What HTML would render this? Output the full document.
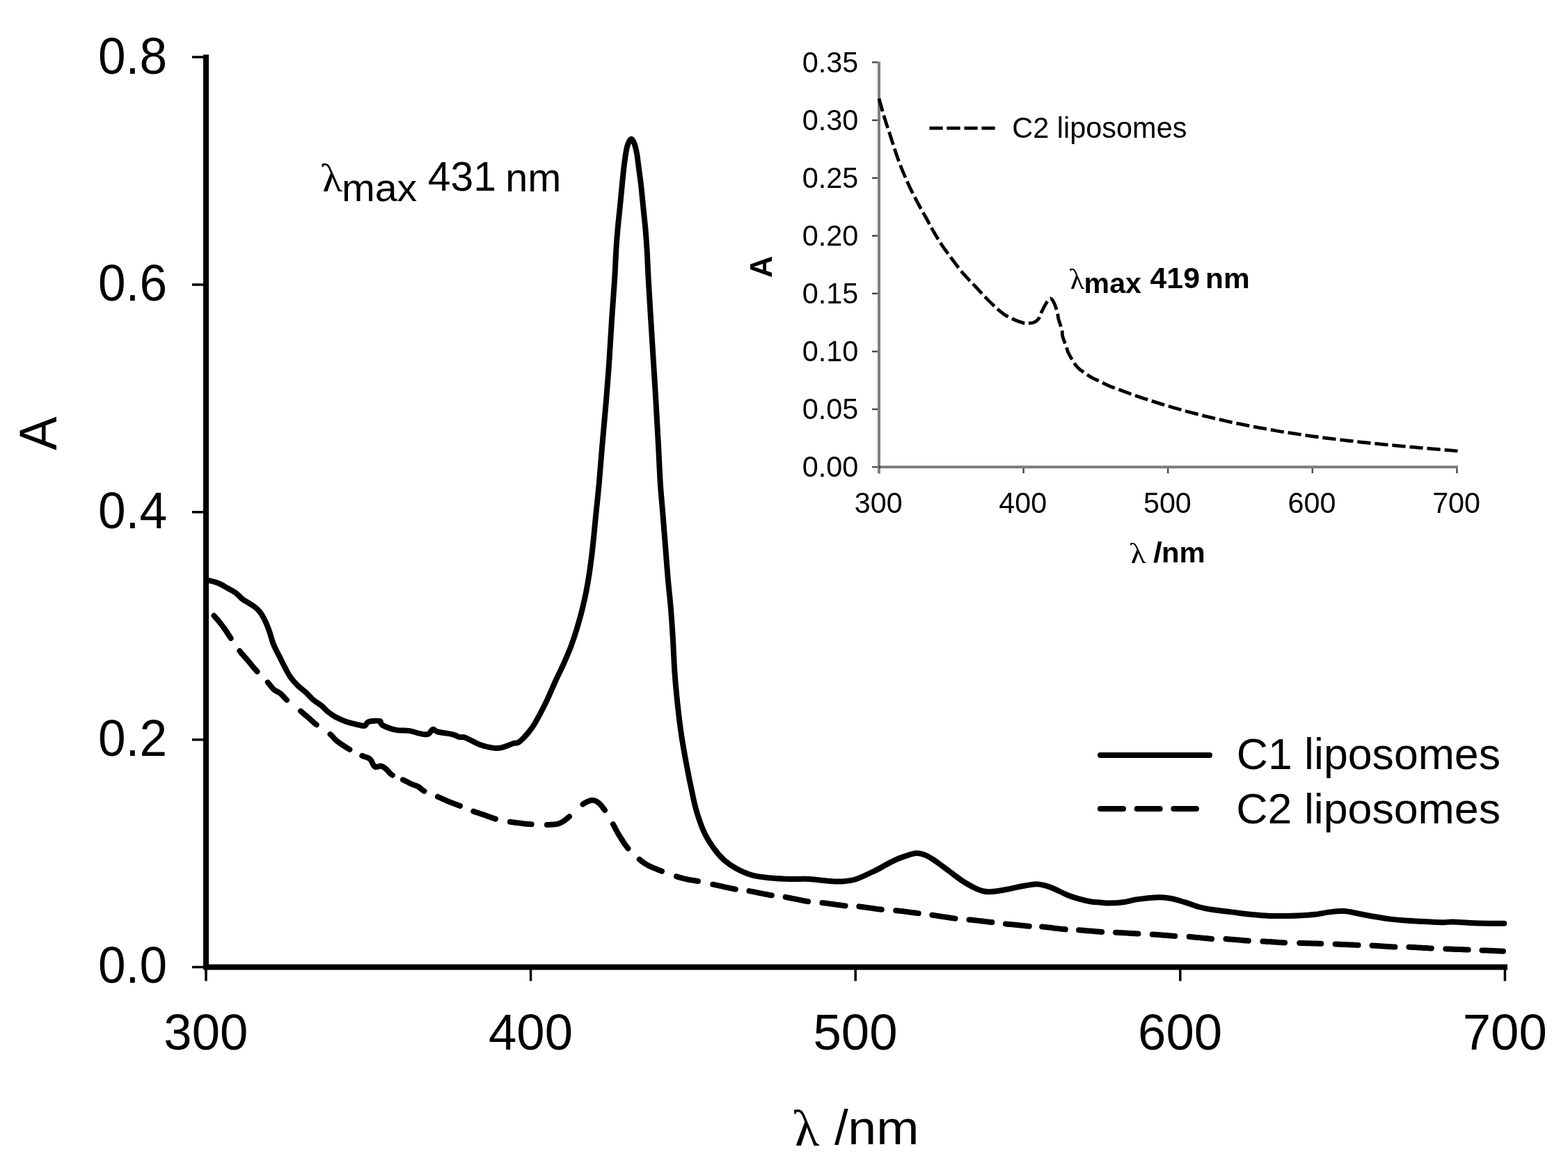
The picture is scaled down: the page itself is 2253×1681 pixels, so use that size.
<!DOCTYPE html>
<html><head><meta charset="utf-8"><title>Absorption spectra of C1 and C2 liposomes</title>
<style>html,body{margin:0;padding:0;background:#fff;}svg{display:block;}</style></head>
<body><svg width="2253" height="1681" viewBox="0 0 2253 1681">
<rect width="2253" height="1681" fill="#fff"/>
<path d="M296 78.5V1393.5M292 1389.5H2166" stroke="#000" stroke-width="8" fill="none"/>
<path d="M276 82.0H296M276 408.9H296M276 735.8H296M276 1062.7H296M276 1389.6H296M296.0 1389.5V1409.5M762.6 1389.5V1409.5M1229.2 1389.5V1409.5M1695.8 1389.5V1409.5M2162.4 1389.5V1409.5" stroke="#000" stroke-width="3.5" fill="none"/>
<path d="M296.0 833.5 C296.6 833.5 296.5 833.0 299.5 833.8 C302.5 834.5 309.4 836.1 314.0 838.0 C318.6 839.9 323.1 842.9 327.4 845.3 C331.6 847.7 336.0 849.9 339.5 852.5 C343.0 855.1 345.6 858.7 348.6 861.0 C351.6 863.3 354.6 864.6 357.6 866.5 C360.6 868.4 364.2 870.5 366.7 872.5 C369.2 874.5 370.8 876.1 372.8 878.6 C374.8 881.1 376.9 884.1 378.8 887.6 C380.7 891.1 382.8 896.0 384.3 899.7 C385.8 903.4 386.5 905.4 388.0 910.0 C389.5 914.6 391.1 921.2 393.5 927.1 C395.9 933.0 400.2 940.4 402.6 945.3 C405.0 950.1 405.6 951.7 408.0 956.2 C410.4 960.7 413.8 967.7 417.1 972.5 C420.4 977.3 424.4 981.6 428.0 985.2 C431.6 988.8 435.3 991.0 438.9 994.3 C442.5 997.6 445.9 1001.9 449.8 1005.2 C453.7 1008.5 459.2 1011.6 462.5 1014.3 C465.8 1017.0 466.6 1018.9 469.8 1021.5 C473.0 1024.1 477.2 1027.4 481.9 1030.0 C486.6 1032.6 492.9 1035.2 497.8 1037.0 C502.7 1038.8 506.7 1039.5 511.0 1040.5 C515.3 1041.5 520.5 1043.5 523.6 1042.9 C526.7 1042.3 526.0 1038.2 529.6 1037.0 C533.2 1035.8 542.2 1035.2 545.5 1036.0 C548.8 1036.8 545.5 1039.8 549.5 1041.9 C553.5 1044.1 563.0 1047.6 569.3 1048.9 C575.6 1050.2 581.2 1049.0 587.2 1049.9 C593.2 1050.8 600.8 1053.6 605.4 1054.4 C610.0 1055.2 612.3 1056.0 615.1 1054.9 C617.9 1053.8 619.7 1048.5 622.0 1047.9 C624.3 1047.3 624.2 1050.3 629.0 1051.5 C633.8 1052.7 645.6 1054.0 650.8 1055.3 C655.9 1056.5 656.9 1058.2 659.9 1059.0 C662.9 1059.8 664.1 1058.1 669.0 1059.9 C673.9 1061.7 682.6 1067.4 689.0 1069.8 C695.4 1072.2 702.0 1073.6 707.1 1074.4 C712.2 1075.2 714.6 1075.5 719.8 1074.4 C724.9 1073.3 733.9 1069.2 738.0 1068.0 C742.1 1066.8 741.8 1068.4 744.2 1067.1 C746.6 1065.8 749.0 1063.8 752.5 1060.1 C756.0 1056.4 761.0 1050.6 765.0 1044.8 C769.0 1039.0 772.5 1032.2 776.2 1025.3 C779.9 1018.3 783.6 1011.0 787.3 1003.1 C791.0 995.2 794.7 986.1 798.4 978.0 C802.1 969.9 805.9 962.8 809.6 954.4 C813.3 946.0 817.5 936.5 820.7 927.9 C823.9 919.3 826.5 911.2 829.0 902.9 C831.5 894.5 833.8 886.6 836.0 877.8 C838.2 869.0 840.4 859.4 842.3 850.0 C844.1 840.6 845.5 832.4 847.1 821.6 C848.7 810.8 850.2 798.9 851.7 785.3 C853.2 771.7 854.7 755.0 856.2 739.9 C857.7 724.8 859.3 711.1 860.8 694.5 C862.3 677.9 863.6 660.0 865.3 640.0 C867.0 620.0 869.4 594.9 871.1 574.3 C872.8 553.7 874.2 535.6 875.5 516.2 C876.8 496.8 877.8 477.5 879.1 458.1 C880.4 438.7 882.2 416.5 883.2 400.0 C884.2 383.5 884.6 370.6 885.3 358.9 C886.0 347.2 886.8 338.3 887.5 329.8 C888.2 321.3 889.0 315.3 889.7 308.0 C890.4 300.7 891.2 293.5 891.9 286.2 C892.6 278.9 893.3 271.7 894.0 264.4 C894.7 257.1 895.4 249.8 896.2 242.6 C897.1 235.3 898.1 226.7 899.1 220.9 C900.1 215.1 900.7 211.3 902.0 207.8 C903.3 204.3 905.5 200.1 907.1 199.8 C908.7 199.6 910.2 202.8 911.5 206.3 C912.8 209.8 914.0 214.9 915.1 220.9 C916.2 226.9 917.0 235.3 918.0 242.6 C919.0 249.8 920.0 257.1 920.9 264.4 C921.8 271.7 922.4 278.9 923.1 286.2 C923.8 293.5 924.6 300.7 925.3 308.0 C926.0 315.3 926.8 321.3 927.5 329.8 C928.2 338.3 928.9 347.2 929.6 358.9 C930.3 370.6 930.7 383.5 931.6 400.0 C932.5 416.5 933.9 438.7 935.1 458.1 C936.3 477.5 937.5 496.8 938.7 516.2 C939.9 535.6 941.1 553.7 942.3 574.3 C943.5 594.9 944.9 620.0 946.0 640.0 C947.1 660.0 947.7 677.9 948.8 694.5 C949.9 711.1 951.3 724.8 952.5 739.9 C953.7 755.0 954.9 770.2 956.1 785.3 C957.3 800.4 958.4 815.6 959.7 830.7 C961.0 845.8 962.8 861.1 964.0 876.0 C965.2 890.9 966.1 904.8 967.0 920.0 C967.9 935.2 968.4 951.7 969.5 967.0 C970.6 982.3 972.0 997.0 973.6 1012.0 C975.2 1027.0 977.0 1041.9 979.2 1056.8 C981.4 1071.7 984.6 1088.5 987.0 1101.6 C989.4 1114.7 991.5 1124.8 993.8 1135.2 C996.0 1145.7 997.5 1154.2 1000.5 1164.3 C1003.5 1174.4 1007.6 1186.7 1011.7 1195.7 C1015.8 1204.7 1020.2 1211.4 1025.1 1218.1 C1029.9 1224.8 1035.2 1231.0 1040.8 1236.0 C1046.4 1241.0 1052.0 1244.7 1058.7 1248.3 C1065.5 1251.9 1073.0 1255.4 1081.3 1257.6 C1089.6 1259.8 1099.4 1260.7 1108.4 1261.6 C1117.4 1262.5 1126.5 1262.8 1135.5 1263.0 C1144.5 1263.2 1153.6 1262.5 1162.6 1263.0 C1171.6 1263.5 1181.8 1265.1 1189.7 1265.7 C1197.6 1266.3 1203.2 1266.9 1210.0 1266.4 C1216.8 1266.0 1222.5 1265.6 1230.4 1263.0 C1238.3 1260.4 1249.6 1254.6 1257.5 1250.8 C1265.4 1247.0 1272.4 1242.7 1277.8 1239.9 C1283.2 1237.1 1285.7 1235.8 1290.0 1234.0 C1294.3 1232.2 1299.1 1230.5 1303.6 1229.1 C1308.1 1227.7 1312.6 1225.7 1317.1 1225.7 C1321.6 1225.7 1326.2 1227.2 1330.7 1229.1 C1335.2 1231.0 1338.6 1233.4 1344.2 1237.2 C1349.8 1241.0 1357.7 1247.1 1364.5 1252.1 C1371.3 1257.1 1378.1 1262.7 1384.9 1267.0 C1391.7 1271.3 1399.6 1275.5 1405.2 1277.9 C1410.8 1280.3 1413.1 1281.1 1418.7 1281.3 C1424.3 1281.5 1431.1 1280.5 1439.0 1279.2 C1446.9 1278.0 1458.3 1275.3 1466.2 1273.8 C1474.1 1272.3 1480.9 1270.7 1486.5 1270.4 C1492.1 1270.1 1495.5 1270.8 1500.0 1271.8 C1504.5 1272.8 1507.9 1274.1 1513.6 1276.5 C1519.2 1278.9 1527.8 1283.5 1533.9 1286.0 C1540.0 1288.5 1544.6 1289.8 1550.2 1291.4 C1555.8 1293.0 1562.8 1294.7 1567.8 1295.5 C1572.8 1296.3 1575.7 1296.2 1580.0 1296.5 C1584.3 1296.8 1587.9 1297.6 1593.6 1297.6 C1599.2 1297.5 1607.1 1297.1 1613.9 1296.2 C1620.7 1295.3 1626.3 1293.2 1634.2 1292.1 C1642.1 1291.0 1653.4 1289.6 1661.3 1289.4 C1669.2 1289.2 1674.8 1289.7 1681.6 1290.8 C1688.4 1291.9 1695.2 1294.2 1702.0 1296.2 C1708.8 1298.2 1715.5 1301.2 1722.3 1303.0 C1729.1 1304.8 1734.7 1305.8 1742.6 1307.0 C1750.5 1308.2 1760.7 1309.3 1769.7 1310.4 C1778.7 1311.5 1787.8 1312.9 1796.8 1313.8 C1805.8 1314.7 1814.9 1315.6 1823.9 1315.9 C1832.9 1316.2 1843.3 1316.0 1851.0 1315.9 C1858.7 1315.8 1863.5 1315.7 1870.0 1315.3 C1876.5 1314.9 1883.5 1314.6 1890.3 1313.8 C1897.1 1313.0 1903.9 1311.2 1910.7 1310.4 C1917.5 1309.6 1924.2 1308.8 1931.0 1309.1 C1937.8 1309.4 1944.5 1311.3 1951.3 1312.5 C1958.1 1313.7 1963.7 1315.2 1971.6 1316.5 C1979.5 1317.8 1990.8 1319.6 1998.7 1320.6 C2006.6 1321.6 2011.1 1322.0 2019.0 1322.6 C2026.9 1323.2 2037.2 1323.5 2046.2 1324.0 C2055.2 1324.5 2066.5 1325.2 2073.3 1325.3 C2080.1 1325.4 2080.0 1324.4 2086.8 1324.5 C2093.6 1324.6 2104.9 1325.6 2113.9 1326.0 C2122.9 1326.4 2133.1 1326.6 2141.0 1326.7 C2148.9 1326.8 2157.9 1326.7 2161.3 1326.7" stroke="#000" stroke-width="8" fill="none" stroke-linejoin="round" stroke-linecap="round"/>
<path d="M307.5 884.6 309.1 886.5 311.0 888.6 312.9 890.8 314.7 893.0 316.4 895.1 318.2 897.4 319.9 899.8 321.7 902.1 323.3 904.4 324.8 906.5 326.0 908.3 327.4 910.5 328.5 912.2 329.9 914.3 331.0 916.0 331.7 917.0M344.4 935.2 346.1 937.4 347.7 939.3 349.3 941.2 350.8 943.0 352.4 944.7 353.9 946.5 355.5 948.2 357.0 950.0 358.5 951.8 360.0 953.6 361.4 955.4 362.9 957.2 364.3 958.9 365.8 960.7 367.4 962.5 369.0 964.3 369.5 964.8M384.8 980.4 386.3 982.2 387.6 983.8 389.4 986.1 391.2 988.3 392.9 990.1 394.7 991.6 396.9 993.0 399.1 994.0 401.4 995.2 403.2 996.6 405.1 998.4 406.9 1000.3 408.9 1002.5 410.3 1004.0 411.8 1005.5 412.0 1005.6M432.0 1021.7 434.1 1023.4 435.6 1024.7 437.8 1026.6 440.0 1028.4 442.2 1030.3 443.8 1031.7 445.4 1033.1 446.9 1034.5 448.5 1035.9 450.1 1037.3 451.7 1038.8 453.4 1040.2 454.7 1041.2M474.5 1054.9 476.0 1056.2 477.6 1057.9 478.9 1059.5 480.5 1061.4 482.4 1063.2 484.2 1064.8 486.0 1066.1 488.0 1067.6 489.8 1068.8 491.9 1070.2 494.3 1071.8 496.8 1073.4 498.6 1074.5 500.4 1075.6 502.3 1076.7 502.5 1076.8M520.3 1085.8 522.7 1086.8 525.0 1087.5 527.2 1088.2 529.2 1089.0 531.0 1090.1 532.7 1091.8 534.0 1094.0 535.2 1096.5 536.3 1098.8 537.6 1100.8 539.5 1102.0 541.8 1101.8 544.1 1101.1 546.4 1100.5 548.5 1100.9 550.5 1101.9 552.5 1103.2 554.4 1104.7 556.3 1106.4 558.1 1108.3 559.4 1109.9 560.9 1111.5 562.7 1113.0 563.8 1113.7M579.0 1120.3 580.9 1121.2 583.4 1122.5 585.9 1123.8 588.2 1125.0 590.5 1126.1 592.6 1127.0 594.6 1127.7 597.1 1128.6 599.4 1129.5 601.8 1130.7 603.8 1132.2 605.6 1133.9 607.3 1135.2 609.3 1136.5 609.5 1136.6M629.0 1144.7 631.1 1145.6 633.0 1146.5 635.0 1147.4 636.9 1148.3 638.9 1149.1 640.8 1150.0 642.9 1150.9 645.0 1151.7 647.1 1152.6 649.4 1153.5 651.6 1154.3 653.9 1155.2 656.2 1156.0 658.5 1156.9 660.7 1157.8 661.0 1157.9M680.3 1165.7 682.2 1166.4 684.3 1167.1 686.4 1167.8 688.5 1168.5 690.7 1169.2 692.8 1169.9 694.9 1170.6 697.1 1171.4 699.2 1172.1 701.4 1172.9 703.6 1173.7 705.8 1174.5 708.0 1175.3 710.2 1176.0 712.0 1176.6M733.0 1180.8 735.5 1181.2 738.2 1181.6 741.0 1181.9 743.8 1182.3 746.5 1182.6 749.0 1182.9 751.4 1183.2 753.5 1183.4 756.1 1183.7 758.2 1183.9 760.3 1184.0 762.5 1184.2 763.7 1184.2M786.0 1185.0 788.6 1184.9 791.1 1184.8 793.5 1184.7 795.9 1184.5 798.2 1184.3 800.5 1183.8 802.7 1183.3 804.8 1182.5 806.8 1181.5 808.7 1180.5 810.6 1179.2 812.4 1177.9 814.2 1176.5 816.1 1174.9 818.0 1173.3 818.0 1173.3M837.5 1155.5 839.3 1154.3 841.2 1153.2 843.0 1152.2 845.7 1151.1 848.2 1150.2 850.5 1149.8 852.6 1149.8 855.0 1150.3 857.3 1151.5 859.0 1152.7 860.8 1154.1 862.6 1155.9 864.4 1157.9 866.2 1160.2 867.5 1161.9 868.7 1163.6 869.0 1164.0M880.9 1184.2 882.3 1186.8 883.6 1189.3 884.8 1191.7 886.2 1194.1 887.2 1196.0 888.4 1198.0 889.8 1200.3 891.3 1202.8 893.0 1205.5 894.7 1208.2 896.5 1211.0 898.3 1213.7 900.2 1216.2 902.0 1218.6 902.4 1219.1M918.8 1234.7 920.3 1236.0 922.0 1237.3 923.6 1238.5 925.3 1239.7 927.0 1240.8 928.8 1241.9 930.7 1243.0 932.9 1244.2 935.3 1245.3 937.8 1246.4 940.5 1247.6 943.2 1248.6 945.9 1249.7 948.6 1250.7 951.0 1251.7M972.0 1259.2 974.7 1260.1 977.5 1260.9 980.2 1261.7 983.0 1262.4 985.0 1262.9 987.1 1263.3 989.2 1263.8 991.5 1264.2 993.8 1264.5 996.2 1264.9 998.5 1265.3 1000.9 1265.7 1003.0 1266.0M1024.3 1270.7 1026.7 1271.2 1028.8 1271.7 1031.1 1272.2 1033.4 1272.7 1035.8 1273.2 1038.3 1273.7 1040.8 1274.3 1043.2 1274.8 1045.7 1275.3 1048.1 1275.8 1050.4 1276.3 1052.6 1276.8 1054.7 1277.2 1056.8 1277.6M1076.5 1280.1 1078.8 1280.6 1080.9 1280.9 1083.1 1281.4 1085.5 1281.8 1087.9 1282.3 1090.3 1282.8 1092.8 1283.3 1095.3 1283.8 1097.7 1284.3 1100.1 1284.8 1102.5 1285.2 1104.7 1285.7 1106.7 1286.0 1108.9 1286.4M1128.7 1288.9 1131.0 1289.4 1133.1 1289.8 1135.3 1290.2 1137.6 1290.7 1140.0 1291.1 1142.5 1291.6 1145.0 1292.1 1147.4 1292.6 1149.9 1293.1 1152.3 1293.6 1154.6 1294.1 1156.8 1294.5 1158.9 1294.9 1161.1 1295.3M1181.5 1297.1 1183.9 1297.4 1186.1 1297.6 1188.3 1297.9 1190.7 1298.3 1193.2 1298.6 1195.7 1298.9 1198.2 1299.3 1200.7 1299.6 1203.2 1300.0 1205.7 1300.3 1208.0 1300.6 1210.3 1300.9 1212.4 1301.2 1214.6 1301.4M1234.4 1302.4 1236.7 1302.7 1238.8 1303.0 1240.9 1303.3 1243.2 1303.6 1245.6 1303.9 1248.0 1304.3 1250.4 1304.6 1252.9 1304.9 1255.3 1305.3 1257.7 1305.6 1260.0 1306.0 1262.3 1306.3 1264.4 1306.5 1266.4 1306.8 1266.8 1306.8M1287.2 1308.2 1290.0 1308.5 1293.5 1308.9 1297.5 1309.3 1299.5 1309.6 1301.6 1309.9 1303.8 1310.1 1305.9 1310.4 1308.0 1310.7 1310.1 1311.0 1312.2 1311.2 1314.2 1311.5 1317.9 1312.0 1319.7 1312.2M1339.4 1314.7 1341.8 1315.0 1343.9 1315.4 1346.2 1315.7 1348.6 1316.1 1351.0 1316.5 1353.5 1316.9 1356.0 1317.2 1358.6 1317.6 1361.1 1318.0 1363.5 1318.4 1365.9 1318.8 1368.2 1319.1 1370.3 1319.4 1372.5 1319.7M1392.5 1321.4 1394.7 1321.6 1396.8 1321.8 1399.1 1322.1 1401.5 1322.3 1403.9 1322.6 1406.4 1322.9 1409.0 1323.2 1411.5 1323.5 1414.0 1323.8 1416.4 1324.1 1418.8 1324.4 1421.1 1324.6 1423.2 1324.9 1425.3 1325.1M1444.9 1327.4 1447.4 1327.7 1449.5 1327.9 1451.7 1328.1 1454.0 1328.3 1456.4 1328.6 1458.9 1328.8 1461.4 1329.1 1463.8 1329.3 1466.3 1329.6 1468.7 1329.8 1471.0 1330.0 1473.2 1330.2 1475.3 1330.4 1478.8 1330.7M1497.2 1331.5 1500.3 1331.8 1502.5 1332.0 1504.7 1332.3 1507.1 1332.5 1509.6 1332.8 1512.1 1333.1 1514.6 1333.5 1517.2 1333.8 1519.7 1334.1 1522.1 1334.4 1524.5 1334.6 1526.7 1334.9 1528.8 1335.1 1530.8 1335.3M1550.1 1336.3 1552.5 1336.5 1554.6 1336.6 1556.8 1336.8 1559.2 1337.0 1561.7 1337.2 1564.2 1337.4 1566.7 1337.6 1569.2 1337.8 1571.8 1338.0 1574.2 1338.2 1576.6 1338.4 1578.9 1338.6 1581.0 1338.7 1583.2 1338.9M1603.0 1339.7 1605.3 1339.8 1607.4 1339.9 1609.6 1340.0 1611.9 1340.2 1614.3 1340.3 1616.8 1340.4 1619.3 1340.6 1621.7 1340.7 1624.2 1340.9 1626.6 1341.0 1628.9 1341.2 1631.1 1341.3 1633.2 1341.4 1635.4 1341.5M1655.8 1342.4 1658.2 1342.6 1660.3 1342.7 1662.5 1342.9 1664.8 1343.1 1667.2 1343.3 1669.7 1343.5 1672.1 1343.7 1674.6 1343.8 1677.1 1344.0 1679.5 1344.2 1681.8 1344.4 1684.0 1344.6 1686.1 1344.7 1688.3 1344.9M1708.7 1345.8 1711.1 1346.0 1713.2 1346.2 1715.4 1346.4 1717.7 1346.7 1720.1 1346.9 1722.5 1347.1 1725.0 1347.4 1727.5 1347.6 1729.9 1347.9 1732.3 1348.1 1734.6 1348.3 1736.8 1348.5 1738.9 1348.7 1741.1 1348.9M1761.5 1349.1 1763.9 1349.2 1766.0 1349.4 1768.2 1349.6 1770.5 1349.7 1772.9 1349.9 1775.3 1350.1 1777.8 1350.4 1780.3 1350.6 1782.7 1350.8 1785.1 1351.0 1787.4 1351.2 1789.6 1351.4 1791.7 1351.5 1793.9 1351.7M1814.4 1352.5 1816.7 1352.6 1818.7 1352.7 1820.8 1352.9 1823.0 1353.0 1825.3 1353.1 1827.7 1353.3 1830.1 1353.5 1832.4 1353.6 1834.8 1353.8 1837.1 1353.9 1839.4 1354.1 1841.6 1354.2 1843.8 1354.3 1846.1 1354.4M1867.2 1354.9 1870.0 1355.0 1873.4 1355.1 1877.2 1355.2 1881.1 1355.3 1883.1 1355.3 1885.2 1355.4 1887.2 1355.4 1891.1 1355.5 1894.8 1355.7 1898.2 1355.8 1898.3 1355.8M1918.6 1356.5 1921.8 1356.6 1923.8 1356.7 1926.0 1356.8 1928.3 1356.9 1930.6 1357.0 1933.0 1357.1 1935.4 1357.2 1937.8 1357.3 1940.2 1357.4 1942.5 1357.5 1944.8 1357.6 1947.0 1357.7 1949.0 1357.8 1951.6 1357.9M1971.6 1358.5 1974.7 1358.7 1976.7 1358.8 1978.9 1359.0 1981.2 1359.1 1983.5 1359.3 1985.9 1359.4 1988.3 1359.6 1990.7 1359.7 1993.1 1359.9 1995.4 1360.0 1997.7 1360.2 1999.8 1360.3 2001.9 1360.4 2004.4 1360.6M2024.4 1360.7 2026.8 1360.8 2028.9 1360.9 2031.1 1361.0 2033.4 1361.1 2035.8 1361.3 2038.2 1361.4 2040.7 1361.6 2043.2 1361.7 2045.6 1361.9 2048.0 1362.0 2050.3 1362.1 2052.5 1362.3 2054.6 1362.4 2056.8 1362.5M2077.3 1363.3 2079.7 1363.4 2081.8 1363.5 2084.0 1363.6 2086.3 1363.7 2088.7 1363.8 2091.2 1363.9 2093.7 1364.0 2096.1 1364.0 2098.6 1364.1 2101.0 1364.2 2103.3 1364.3 2105.5 1364.4 2107.6 1364.5 2109.7 1364.5M2129.4 1365.4 2131.6 1365.5 2133.6 1365.5 2135.8 1365.6 2138.0 1365.7 2140.4 1365.8 2142.7 1365.9 2145.1 1366.0 2147.4 1366.1 2149.7 1366.2 2151.9 1366.3 2153.9 1366.4 2157.4 1366.6 2160.0 1366.7" stroke="#000" stroke-width="8" fill="none" stroke-linejoin="round" stroke-linecap="round"/>
<path d="M1581 1085H1738" stroke="#000" stroke-width="8" stroke-linecap="round"/>
<path d="M1581 1162H1719" stroke="#000" stroke-width="8" stroke-linecap="round" stroke-dasharray="33 19.7"/>
<path d="M1263.0 88.5V680.5" stroke="#000" stroke-opacity="0.5" stroke-width="4" fill="none"/>
<path d="M1263.0 671.0H2095" stroke="#000" stroke-opacity="0.5" stroke-width="4" fill="none"/>
<path d="M1253 89.6H1261.0M1253 172.7H1261.0M1253 255.7H1261.0M1253 338.8H1261.0M1253 421.8H1261.0M1253 504.9H1261.0M1253 588.0H1261.0M1253 671.0H1261.0M1470.6 673.0V680M1678.2 673.0V680M1885.8 673.0V680M2093.4 673.0V680" stroke="#000" stroke-opacity="0.7" stroke-width="2.5" fill="none"/>
<path d="M1262.9 141.5 C1263.6 143.8 1265.6 151.0 1266.9 155.5 C1268.2 160.0 1269.4 164.2 1270.7 168.5 C1272.0 172.8 1273.3 177.0 1274.7 181.2 C1276.1 185.4 1277.5 189.6 1278.9 193.8 C1280.3 198.0 1281.6 202.3 1283.0 206.5 C1284.4 210.7 1285.7 215.0 1287.1 219.1 C1288.5 223.2 1289.9 227.3 1291.4 231.3 C1292.9 235.3 1294.3 239.2 1295.9 243.1 C1297.5 247.0 1299.2 250.9 1300.9 254.9 C1302.6 258.9 1304.4 262.9 1306.2 266.8 C1308.0 270.8 1310.0 274.7 1312.0 278.6 C1314.0 282.5 1316.0 286.4 1318.1 290.3 C1320.2 294.2 1322.4 298.3 1324.5 302.1 C1326.6 305.9 1328.8 309.5 1330.7 313.0 C1332.7 316.5 1334.3 319.7 1336.2 323.1 C1338.1 326.5 1339.9 329.9 1341.9 333.4 C1343.9 336.9 1346.0 340.6 1348.2 344.2 C1350.4 347.8 1352.8 351.3 1355.2 354.8 C1357.6 358.3 1360.1 361.6 1362.6 365.0 C1365.1 368.4 1367.7 371.9 1370.2 375.2 C1372.7 378.5 1375.1 381.9 1377.4 384.8 C1379.7 387.8 1381.8 390.4 1383.9 392.9 C1386.1 395.4 1388.0 397.4 1390.3 399.8 C1392.5 402.2 1394.8 404.7 1397.4 407.4 C1400.0 410.1 1402.9 413.1 1405.7 416.1 C1408.5 419.1 1411.4 422.4 1414.4 425.5 C1417.4 428.6 1420.4 431.8 1423.6 434.9 C1426.8 438.0 1430.0 441.2 1433.4 444.1 C1436.8 447.0 1440.2 449.9 1444.0 452.4 C1447.8 454.8 1451.9 456.9 1456.2 458.8 C1460.5 460.7 1466.3 462.9 1470.0 463.8 C1473.7 464.7 1475.6 464.4 1478.1 464.3 C1480.6 464.2 1483.0 464.1 1485.0 463.5 C1487.0 462.9 1488.6 461.8 1490.0 460.5 C1491.4 459.2 1492.4 458.2 1493.6 455.9 C1494.8 453.6 1495.7 450.1 1497.3 446.8 C1498.9 443.5 1501.4 438.7 1503.0 436.0 C1504.6 433.3 1505.7 431.7 1506.8 430.5 C1507.9 429.3 1508.5 428.6 1509.5 428.8 C1510.5 429.0 1511.5 429.9 1512.7 431.8 C1513.9 433.7 1515.4 437.0 1516.5 440.0 C1517.6 443.0 1518.8 447.0 1519.5 450.0 C1520.2 453.0 1519.8 454.0 1520.9 458.1 C1522.0 462.2 1524.9 470.3 1525.9 474.5 C1526.9 478.7 1525.7 478.9 1526.8 483.1 C1527.9 487.3 1531.3 495.8 1532.7 499.9 C1534.1 504.0 1533.3 503.5 1535.4 507.6 C1537.5 511.7 1542.5 520.4 1545.4 524.4 C1548.3 528.4 1548.8 528.7 1552.7 531.7 C1556.6 534.7 1564.9 540.1 1569.0 542.6 C1573.1 545.1 1573.7 544.9 1577.5 546.7 C1581.3 548.6 1587.2 551.6 1592.0 553.7 C1596.8 555.8 1601.3 557.3 1606.0 559.1 C1610.7 560.9 1615.3 562.6 1620.0 564.3 C1624.7 566.0 1629.3 567.6 1634.0 569.2 C1638.7 570.8 1643.3 572.4 1648.0 573.9 C1652.7 575.4 1657.3 576.9 1662.0 578.4 C1666.7 579.9 1671.3 581.3 1676.0 582.7 C1680.7 584.1 1685.3 585.5 1690.0 586.8 C1694.7 588.1 1699.3 589.4 1704.0 590.7 C1708.7 592.0 1713.3 593.2 1718.0 594.4 C1722.7 595.6 1727.3 596.9 1732.0 598.0 C1736.7 599.1 1741.3 600.2 1746.0 601.3 C1750.7 602.4 1755.3 603.5 1760.0 604.5 C1764.7 605.5 1769.3 606.6 1774.0 607.6 C1778.7 608.6 1783.3 609.5 1788.0 610.4 C1792.7 611.3 1797.3 612.3 1802.0 613.2 C1806.7 614.1 1811.3 614.9 1816.0 615.7 C1820.7 616.5 1825.3 617.4 1830.0 618.2 C1834.7 619.0 1839.3 619.8 1844.0 620.5 C1848.7 621.2 1853.3 622.0 1858.0 622.7 C1862.7 623.4 1867.3 624.1 1872.0 624.8 C1876.7 625.5 1881.3 626.1 1886.0 626.8 C1890.7 627.4 1895.3 628.1 1900.0 628.7 C1904.7 629.3 1909.3 629.8 1914.0 630.4 C1918.7 631.0 1923.3 631.5 1928.0 632.1 C1932.7 632.7 1937.3 633.2 1942.0 633.7 C1946.7 634.2 1951.3 634.8 1956.0 635.3 C1960.7 635.8 1965.3 636.2 1970.0 636.7 C1974.7 637.2 1979.3 637.7 1984.0 638.2 C1988.7 638.7 1993.3 639.1 1998.0 639.5 C2002.7 639.9 2007.3 640.4 2012.0 640.8 C2016.7 641.2 2021.3 641.7 2026.0 642.1 C2030.7 642.5 2035.3 642.9 2040.0 643.3 C2044.7 643.7 2049.3 644.1 2054.0 644.5 C2058.7 644.9 2063.3 645.3 2068.0 645.7 C2072.7 646.1 2077.6 646.5 2082.0 646.9 C2086.4 647.3 2092.4 647.7 2094.5 647.9" stroke="#000" stroke-width="4.8" fill="none" stroke-linejoin="round" stroke-dasharray="19.3 5.848"/>
<path d="M1335.4 184.2H1431" stroke="#000" stroke-width="4.8" stroke-dasharray="19.3 5.7"/>
<text transform="matrix(0.9624 0 0.0000 1 140.95 105.66)" font-family='"Liberation Sans", sans-serif' font-size="74.08" font-weight="normal">0.8</text>
<text transform="matrix(0.9624 0 0.0000 1 140.95 432.31)" font-family='"Liberation Sans", sans-serif' font-size="74.08" font-weight="normal">0.6</text>
<text transform="matrix(0.9624 0 0.0000 1 140.95 758.96)" font-family='"Liberation Sans", sans-serif' font-size="74.08" font-weight="normal">0.4</text>
<text transform="matrix(0.9624 0 0.0000 1 140.95 1085.61)" font-family='"Liberation Sans", sans-serif' font-size="74.08" font-weight="normal">0.2</text>
<text transform="matrix(0.9624 0 0.0000 1 140.95 1412.26)" font-family='"Liberation Sans", sans-serif' font-size="74.08" font-weight="normal">0.0</text>
<text transform="matrix(0.9987 0 0.0000 1 235.30 1508.27)" font-family='"Liberation Sans", sans-serif' font-size="72.68" font-weight="normal">300</text>
<text transform="matrix(0.9987 0 0.0000 1 701.90 1508.27)" font-family='"Liberation Sans", sans-serif' font-size="72.68" font-weight="normal">400</text>
<text transform="matrix(0.9987 0 0.0000 1 1168.50 1508.27)" font-family='"Liberation Sans", sans-serif' font-size="72.68" font-weight="normal">500</text>
<text transform="matrix(0.9987 0 0.0000 1 1635.10 1508.27)" font-family='"Liberation Sans", sans-serif' font-size="72.68" font-weight="normal">600</text>
<text transform="matrix(0.9987 0 0.0000 1 2101.70 1508.27)" font-family='"Liberation Sans", sans-serif' font-size="72.68" font-weight="normal">700</text>
<text transform="translate(80.60 647.10) rotate(-90) scale(0.9575 1)" font-family='"Liberation Sans", sans-serif' font-size="75.80" font-weight="normal">A</text>
<text transform="matrix(1.0313 0 0.2571 1 1146.23 1645.50)" font-family='"Liberation Serif", serif' font-size="73.86" font-weight="normal" font-style="italic">λ</text>
<text transform="matrix(1.0035 0 0.0000 1 1199.00 1643.50)" font-family='"Liberation Sans", sans-serif' font-size="70.82" font-weight="normal">/</text>
<text transform="matrix(1.0644 0 0.0000 1 1218.25 1643.50)" font-family='"Liberation Sans", sans-serif' font-size="69.07" font-weight="normal">nm</text>
<text transform="matrix(1.0872 0 0.2711 1 466.65 274.90)" font-family='"Liberation Serif", serif' font-size="57.14" font-weight="normal" font-style="italic">λ</text>
<text transform="matrix(1.0217 0 0.0000 1 490.88 289.24)" font-family='"Liberation Sans", sans-serif' font-size="56.18" font-weight="normal">max</text>
<text transform="matrix(1.0000 0 0.0000 1 614.72 273.61)" font-family='"Liberation Sans", sans-serif' font-size="58.87" font-weight="normal">431</text>
<text transform="matrix(0.9919 0 0.0000 1 726.16 274.90)" font-family='"Liberation Sans", sans-serif' font-size="58.15" font-weight="normal">nm</text>
<text transform="matrix(1.0098 0 0.0000 1 1776.67 1104.78)" font-family='"Liberation Sans", sans-serif' font-size="62.02" font-weight="normal">C1 liposomes</text>
<text transform="matrix(1.0176 0 0.0000 1 1776.37 1182.56)" font-family='"Liberation Sans", sans-serif' font-size="61.60" font-weight="normal">C2 liposomes</text>
<text transform="matrix(0.9681 0 0.0000 1 1152.74 103.67)" font-family='"Liberation Sans", sans-serif' font-size="42.82" font-weight="normal">0.35</text>
<text transform="matrix(0.9681 0 0.0000 1 1152.74 186.73)" font-family='"Liberation Sans", sans-serif' font-size="42.82" font-weight="normal">0.30</text>
<text transform="matrix(0.9681 0 0.0000 1 1152.74 269.79)" font-family='"Liberation Sans", sans-serif' font-size="42.82" font-weight="normal">0.25</text>
<text transform="matrix(0.9681 0 0.0000 1 1152.74 352.85)" font-family='"Liberation Sans", sans-serif' font-size="42.82" font-weight="normal">0.20</text>
<text transform="matrix(0.9681 0 0.0000 1 1152.74 435.91)" font-family='"Liberation Sans", sans-serif' font-size="42.82" font-weight="normal">0.15</text>
<text transform="matrix(0.9681 0 0.0000 1 1152.74 518.97)" font-family='"Liberation Sans", sans-serif' font-size="42.82" font-weight="normal">0.10</text>
<text transform="matrix(0.9681 0 0.0000 1 1152.74 602.03)" font-family='"Liberation Sans", sans-serif' font-size="42.82" font-weight="normal">0.05</text>
<text transform="matrix(0.9681 0 0.0000 1 1152.74 685.09)" font-family='"Liberation Sans", sans-serif' font-size="42.82" font-weight="normal">0.00</text>
<text transform="matrix(0.9542 0 0.0000 1 1227.75 737.47)" font-family='"Liberation Sans", sans-serif' font-size="43.24" font-weight="normal">300</text>
<text transform="matrix(0.9542 0 0.0000 1 1435.35 737.47)" font-family='"Liberation Sans", sans-serif' font-size="43.24" font-weight="normal">400</text>
<text transform="matrix(0.9542 0 0.0000 1 1642.95 737.47)" font-family='"Liberation Sans", sans-serif' font-size="43.24" font-weight="normal">500</text>
<text transform="matrix(0.9542 0 0.0000 1 1850.55 737.47)" font-family='"Liberation Sans", sans-serif' font-size="43.24" font-weight="normal">600</text>
<text transform="matrix(0.9542 0 0.0000 1 2058.15 737.47)" font-family='"Liberation Sans", sans-serif' font-size="43.24" font-weight="normal">700</text>
<text transform="translate(1109.34 398.90) rotate(-90) scale(0.9822 1)" font-family='"Liberation Sans", sans-serif' font-size="44.12" font-weight="bold">A</text>
<text transform="matrix(1.1544 0 0.2878 1 1627.14 809.10)" font-family='"Liberation Serif", serif' font-size="41.29" font-weight="normal" font-style="italic">λ</text>
<text transform="matrix(1.1538 0 0.0000 1 1656.94 808.00)" font-family='"Liberation Sans", sans-serif' font-size="40.00" font-weight="bold">/</text>
<text transform="matrix(1.0426 0 0.0000 1 1668.97 808.40)" font-family='"Liberation Sans", sans-serif' font-size="40.19" font-weight="bold">nm</text>
<text transform="matrix(0.9622 0 0.0000 1 1454.33 198.45)" font-family='"Liberation Sans", sans-serif' font-size="43.09" font-weight="normal">C2 liposomes</text>
<text transform="matrix(1.0646 0 0.2654 1 1540.20 414.90)" font-family='"Liberation Serif", serif' font-size="41.57" font-weight="normal" font-style="italic">λ</text>
<text transform="matrix(0.9969 0 0.0000 1 1557.62 420.79)" font-family='"Liberation Sans", sans-serif' font-size="41.27" font-weight="bold">max</text>
<text transform="matrix(1.0000 0 0.0000 1 1652.54 413.87)" font-family='"Liberation Sans", sans-serif' font-size="42.82" font-weight="bold">419</text>
<text transform="matrix(1.0670 0 0.0000 1 1732.03 414.30)" font-family='"Liberation Sans", sans-serif' font-size="39.81" font-weight="bold">nm</text>
</svg></body></html>
